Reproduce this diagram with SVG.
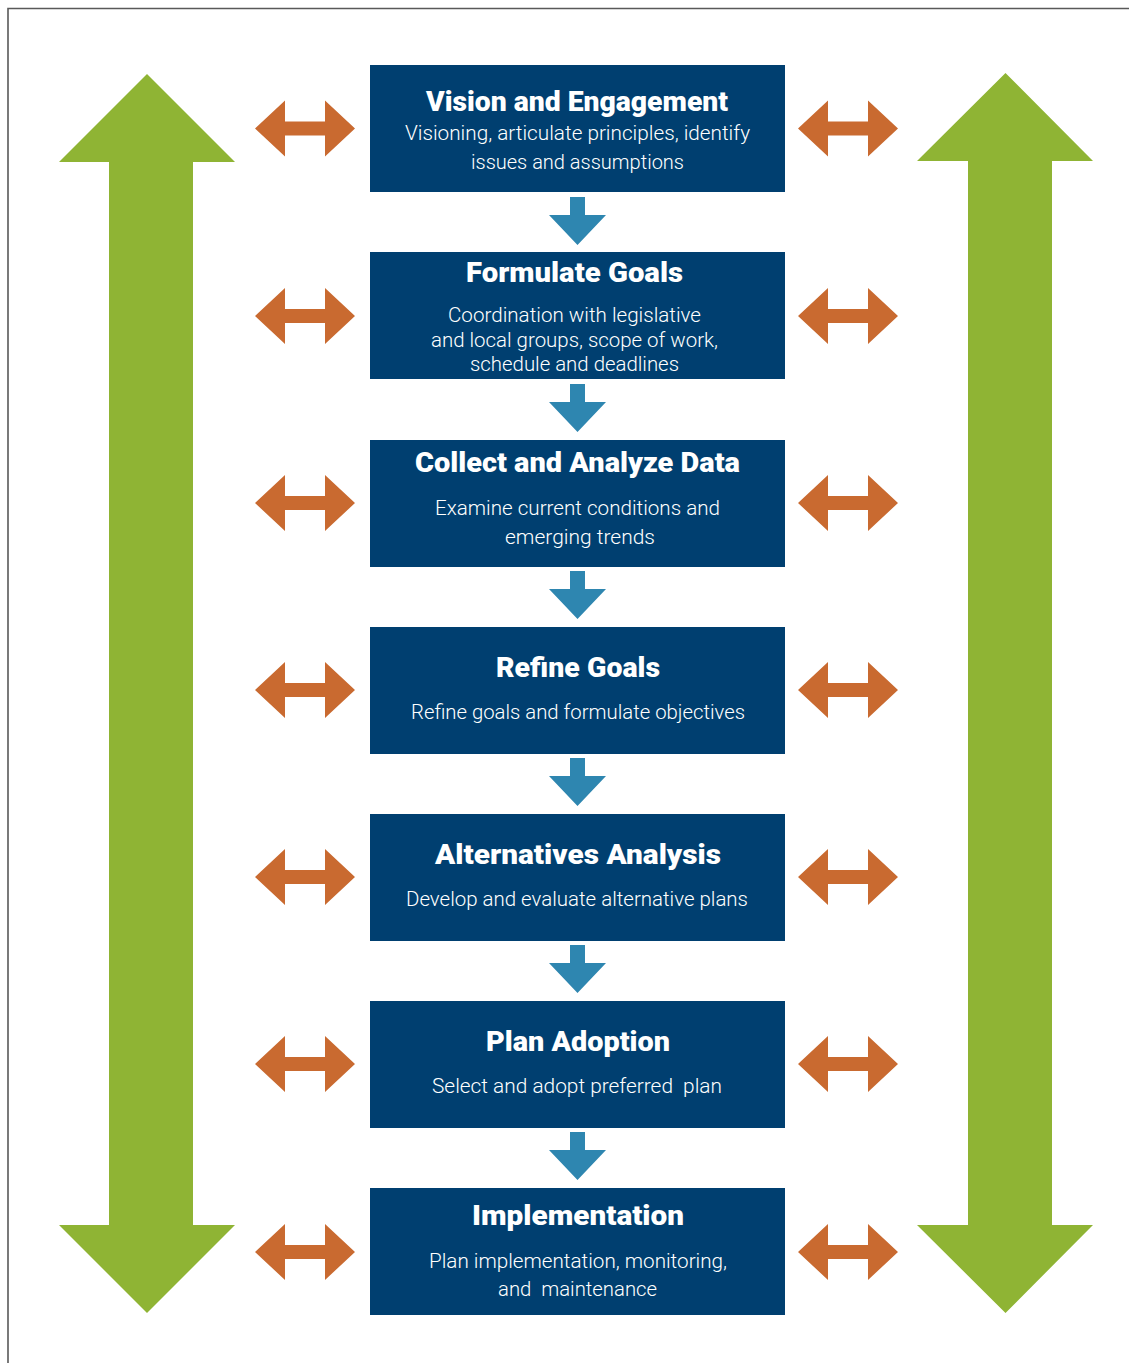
<svg xmlns="http://www.w3.org/2000/svg" width="1129" height="1363" viewBox="0 0 1129 1363">
<defs>
<style>
.box{fill:#003F70}
.t{font-family:Roboto,"Liberation Sans",sans-serif;font-weight:900;font-size:28px;fill:#fff;text-anchor:middle}
.s{font-family:Roboto,"Liberation Sans",sans-serif;font-weight:300;font-size:20px;fill:#fff;text-anchor:middle}
.green{fill:#8FB434}
.orange{fill:#C96A30}
.blue{fill:#2E86B0}
</style>
<path id="oa" d="M0,0 L30,-28 L30,-7 L70,-7 L70,-28 L100,0 L70,28 L70,7 L30,7 L30,28 Z"/>
<path id="da" d="M-7.5,0 L7.5,0 L7.5,18 L28.5,18 L0,48 L-28.5,18 L-7.5,18 Z"/>
</defs>
<rect width="1129" height="1363" fill="#fff"/>
<path d="M8,1363 L8,8.5 L1129,8.5" fill="none" stroke="#595959" stroke-width="1.6"/>
<g id="green-left"><path class="green" d="M147,74 L235,162 L193,162 L193,1225 L235,1225 L147,1313 L59,1225 L109,1225 L109,162 L59,162 Z"/></g>
<g id="green-right"><path class="green" d="M1005.5,73 L1093,161 L1052,161 L1052,1225 L1093,1225 L1005.5,1313 L917,1225 L968,1225 L968,161 L917,161 Z"/></g>
<g id="connectors">
<g class="orange">
<use href="#oa" x="255" y="128.5"/><use href="#oa" x="798" y="128.5"/>
<use href="#oa" x="255" y="316"/><use href="#oa" x="798" y="316"/>
<use href="#oa" x="255" y="503"/><use href="#oa" x="798" y="503"/>
<use href="#oa" x="255" y="690"/><use href="#oa" x="798" y="690"/>
<use href="#oa" x="255" y="877"/><use href="#oa" x="798" y="877"/>
<use href="#oa" x="255" y="1064"/><use href="#oa" x="798" y="1064"/>
<use href="#oa" x="255" y="1252"/><use href="#oa" x="798" y="1252"/>
</g>
<g class="blue">
<use href="#da" x="577.5" y="197"/>
<use href="#da" x="577.5" y="384"/>
<use href="#da" x="577.5" y="571"/>
<use href="#da" x="577.5" y="758"/>
<use href="#da" x="577.5" y="945"/>
<use href="#da" x="577.5" y="1132"/>
</g>
</g>
<g id="n1"><rect class="box" x="370" y="65" width="415" height="127"/>
<text class="t" x="577" y="111" textLength="302" lengthAdjust="spacingAndGlyphs">Vision and Engagement</text>
<text class="s" x="577.5" y="140" textLength="345" lengthAdjust="spacingAndGlyphs">Visioning, articulate principles, identify</text>
<text class="s" x="577.5" y="169" textLength="213" lengthAdjust="spacingAndGlyphs">issues and assumptions</text></g>
<g id="n2"><rect class="box" x="370" y="252" width="415" height="127"/>
<text class="t" x="574.5" y="282" textLength="217" lengthAdjust="spacingAndGlyphs">Formulate Goals</text>
<text class="s" x="574.5" y="322" textLength="253" lengthAdjust="spacingAndGlyphs">Coordination with legislative</text>
<text class="s" x="574.5" y="347" textLength="287" lengthAdjust="spacingAndGlyphs">and local groups, scope of work,</text>
<text class="s" x="574.5" y="371" textLength="209" lengthAdjust="spacingAndGlyphs">schedule and deadlines</text></g>
<g id="n3"><rect class="box" x="370" y="440" width="415" height="127"/>
<text class="t" x="577.5" y="472" textLength="325" lengthAdjust="spacingAndGlyphs">Collect and Analyze Data</text>
<text class="s" x="577.5" y="515" textLength="285" lengthAdjust="spacingAndGlyphs">Examine current conditions and</text>
<text class="s" x="580" y="544" textLength="150" lengthAdjust="spacingAndGlyphs">emerging trends</text></g>
<g id="n4"><rect class="box" x="370" y="627" width="415" height="127"/>
<text class="t" x="578" y="677" textLength="164" lengthAdjust="spacingAndGlyphs">Refine Goals</text>
<text class="s" x="578" y="719" textLength="334" lengthAdjust="spacingAndGlyphs">Refine goals and formulate objectives</text></g>
<g id="n5"><rect class="box" x="370" y="814" width="415" height="127"/>
<text class="t" x="578" y="864" textLength="286" lengthAdjust="spacingAndGlyphs">Alternatives Analysis</text>
<text class="s" x="577" y="906" textLength="342" lengthAdjust="spacingAndGlyphs">Develop and evaluate alternative plans</text></g>
<g id="n6"><rect class="box" x="370" y="1001" width="415" height="127"/>
<text class="t" x="578" y="1051" textLength="184" lengthAdjust="spacingAndGlyphs">Plan Adoption</text>
<text class="s" x="577" y="1093" textLength="290" lengthAdjust="spacingAndGlyphs" xml:space="preserve">Select and adopt preferred  plan</text></g>
<g id="n7"><rect class="box" x="370" y="1188" width="415" height="127"/>
<text class="t" x="578" y="1225" textLength="212" lengthAdjust="spacingAndGlyphs">Implementation</text>
<text class="s" x="578" y="1268" textLength="298" lengthAdjust="spacingAndGlyphs">Plan implementation, monitoring,</text>
<text class="s" x="577.5" y="1296" textLength="159" lengthAdjust="spacingAndGlyphs" xml:space="preserve">and  maintenance</text></g>
</svg>
